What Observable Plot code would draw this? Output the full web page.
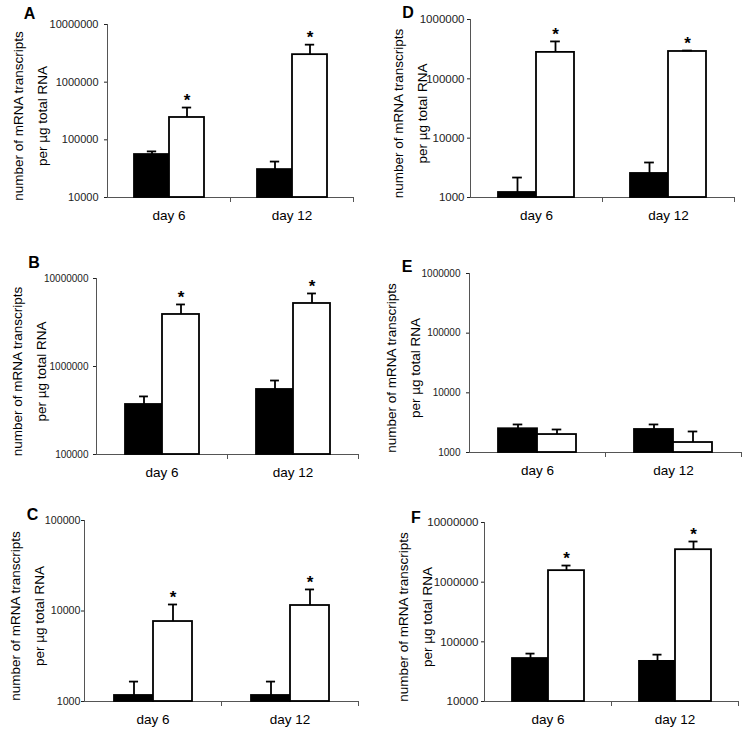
<!DOCTYPE html>
<html><head><meta charset="utf-8">
<script src="https://cdn.jsdelivr.net/npm/d3@7"></script>
<script src="https://cdn.jsdelivr.net/npm/@observablehq/plot@0.6"></script>
<style>
body{margin:0;background:#fff;}
#fig{position:relative;width:742px;height:732px;background:#fff;overflow:hidden;}
.panel{position:absolute;}
</style></head><body><div id="fig"></div>
<script>
const days = ["day 6", "day 12"];
const series = ["filled", "open"];
const yTitle = "number of mRNA transcripts\nper µg total RNA";

// Panel A
const A_ticks = [10000, 100000, 1000000, 10000000];
const A_filled = [55600, 30500];
const A_filledErr = [63000, 42000];
const A_open = [244000, 3000000];
const A_openErr = [363000, 4470000];
const A_star = [true, true];

// Panel B
const B_ticks = [100000, 1000000, 10000000];
const B_filled = [370000, 548000];
const B_filledErr = [457000, 693000];
const B_open = [3900000, 5200000];
const B_openErr = [5070000, 6760000];
const B_star = [true, true];

// Panel C
const C_ticks = [1000, 10000, 100000];
const C_filled = [1165, 1165];
const C_filledErr = [1660, 1660];
const C_open = [7650, 11500];
const C_openErr = [11800, 17300];
const C_star = [true, true];

// Panel D
const D_ticks = [1000, 10000, 100000, 1000000];
const D_filled = [1214, 2540];
const D_filledErr = [2170, 3890];
const D_open = [279000, 289000];
const D_openErr = [427000, 300000];
const D_star = [true, true];

// Panel E
const E_ticks = [1000, 10000, 100000, 1000000];
const E_filled = [2500, 2430];
const E_filledErr = [2950, 2950];
const E_open = [2000, 1470];
const E_openErr = [2430, 2250];
const E_star = [false, false];

// Panel F
const F_ticks = [10000, 100000, 1000000, 10000000];
const F_filled = [52500, 47000];
const F_filledErr = [63500, 61000];
const F_open = [1560000, 3500000];
const F_openErr = [1900000, 4800000];
const F_star = [true, true];

// Layout (page pixel geometry of each panel)
const layout = {
  A: {left: 0,   top: 0,   h: 240, x0: 107, x1: 353, yTop: 24,  yBot: 197, tickPad: 6, tickFont: 11,   titleDx: -80,   letterDx: -78,   letterDy: -11},
  D: {left: 371, top: 0,   h: 240, x0: 470, x1: 734, yTop: 19,  yBot: 197, tickPad: 3, tickFont: 11.5, titleDx: -63.5, letterDx: -62.5, letterDy: -6.5},
  B: {left: 0,   top: 240, h: 240, x0: 95,  x1: 358, yTop: 278, yBot: 454, tickPad: 5, tickFont: 10,   titleDx: -70,   letterDx: -62.5, letterDy: -15.5},
  E: {left: 371, top: 240, h: 240, x0: 469, x1: 741, yTop: 273, yBot: 452, tickPad: 6, tickFont: 10,   titleDx: -69,   letterDx: -62.5, letterDy: -7},
  C: {left: 0,   top: 480, h: 252, x0: 83,  x1: 358, yTop: 520, yBot: 701, tickPad: 1, tickFont: 10.7, titleDx: -60,   letterDx: -52,   letterDy: -6},
  F: {left: 371, top: 480, h: 252, x0: 483, x1: 738, yTop: 522, yBot: 701, tickPad: 3, tickFont: 11.5, titleDx: -72,   letterDx: -68.5, letterDy: -5}
};

function makePanel(key, ticks, filled, filledErr, open, openErr, star) {
  const cfg = layout[key];
  const w = 371;
  const rows = [];
  days.forEach((d, i) => {
    rows.push({day: d, series: "filled", value: filled[i], upper: filledErr[i], star: false});
    rows.push({day: d, series: "open", value: open[i], upper: openErr[i], star: star[i]});
  });
  const lo = ticks[0], hi = ticks[ticks.length - 1];
  const frameH = cfg.yBot - cfg.yTop;
  const barW = (cfg.x1 - cfg.x0) / 2 * 0.29;
  const capInset = Math.max(0, (barW - 10) / 2);
  const chart = Plot.plot({
    width: w, height: cfg.h,
    marginLeft: cfg.x0 - cfg.left,
    marginRight: cfg.left + w - cfg.x1,
    marginTop: cfg.yTop - cfg.top,
    marginBottom: cfg.top + cfg.h - cfg.yBot,
    style: {fontFamily: "'Liberation Sans', Arial, sans-serif", color: "#222", background: "transparent", overflow: "visible"},
    fx: {domain: days, padding: 0, label: null},
    x: {domain: series, paddingInner: 0, paddingOuter: 0.725, axis: null},
    y: {type: "log", domain: [lo, hi]},
    color: {domain: series, range: ["black", "white"]},
    marks: [
      Plot.ruleY([lo], {stroke: "#555"}),
      Plot.frame({anchor: "left", facetAnchor: "left", stroke: "#555"}),
      Plot.frame({anchor: "right", insetTop: frameH, insetBottom: -4, stroke: "#555"}),
      Plot.barY(rows, {fx: "day", x: "series", y1: lo, y2: "value", fill: "series", stroke: "black", strokeWidth: 1.8}),
      Plot.ruleX(rows, {fx: "day", x: "series", y1: "value", y2: "upper", stroke: "black", strokeWidth: 1.8}),
      Plot.tickY(rows, {fx: "day", x: "series", y: "upper", insetLeft: capInset, insetRight: capInset, stroke: "black", strokeWidth: 1.8}),
      Plot.text(rows.filter(d => d.star), {fx: "day", x: "series", y: "upper", text: () => "*", dy: -7, fontSize: 17, fontWeight: "bold", fill: "black"}),
      Plot.axisY({ticks, tickFormat: d => String(d), tickSize: 3, tickPadding: cfg.tickPad, fontSize: cfg.tickFont, label: null}),
      Plot.axisFx({anchor: "bottom", tickSize: 0, tickPadding: 13, fontSize: 13.5, label: null, fill: "black"}),
      Plot.text([{day: days[0], t: yTitle}], {fx: "day", text: "t", frameAnchor: "left", textAnchor: "middle", lineAnchor: "middle", rotate: -90, dx: cfg.titleDx, dy: 5, lineHeight: 1.78, fontSize: 13.5, fill: "black"}),
      Plot.text([{day: days[0], t: key}], {fx: "day", text: "t", frameAnchor: "top-left", textAnchor: "middle", lineAnchor: "middle", dx: cfg.letterDx, dy: cfg.letterDy, fontSize: 16, fontWeight: "bold", fill: "black"})
    ]
  });
  const div = document.createElement("div");
  div.className = "panel";
  div.style.left = cfg.left + "px";
  div.style.top = cfg.top + "px";
  div.appendChild(chart);
  document.getElementById("fig").appendChild(div);
}

makePanel("A", A_ticks, A_filled, A_filledErr, A_open, A_openErr, A_star);
makePanel("D", D_ticks, D_filled, D_filledErr, D_open, D_openErr, D_star);
makePanel("B", B_ticks, B_filled, B_filledErr, B_open, B_openErr, B_star);
makePanel("E", E_ticks, E_filled, E_filledErr, E_open, E_openErr, E_star);
makePanel("C", C_ticks, C_filled, C_filledErr, C_open, C_openErr, C_star);
makePanel("F", F_ticks, F_filled, F_filledErr, F_open, F_openErr, F_star);
</script>
</body></html>
